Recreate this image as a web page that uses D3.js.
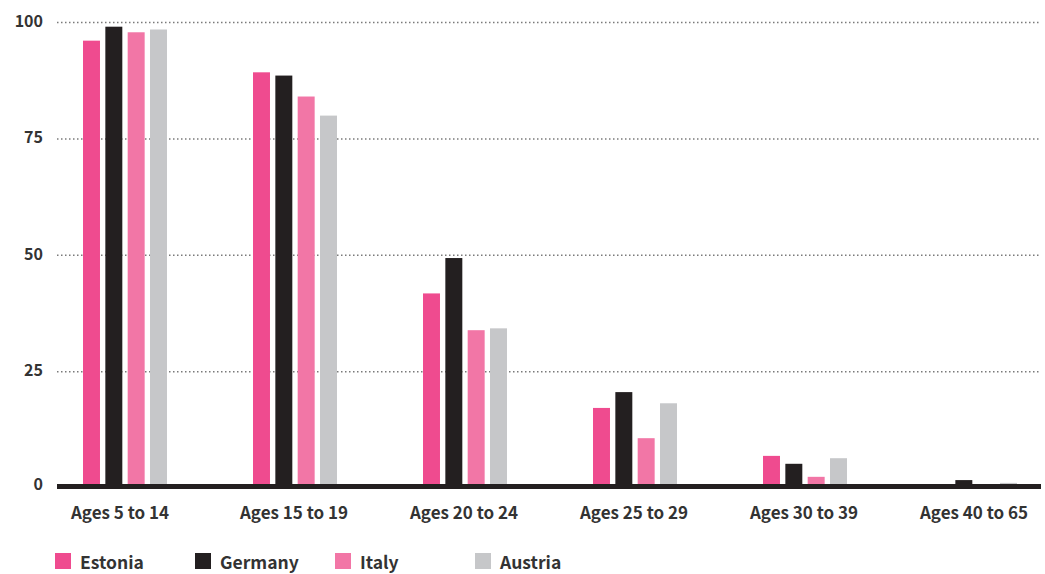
<!DOCTYPE html>
<html>
<head>
<meta charset="utf-8">
<script src="https://cdn.jsdelivr.net/npm/d3@7"></script>
<style>
  html, body { margin: 0; padding: 0; background: #fff; }
  svg { display: block; font-family: "Noto Sans CJK SC", "Source Sans Pro", "Noto Sans", sans-serif; }
</style>
</head>
<body>
<svg id="chart" width="1045" height="574"></svg>
<script>
const categories = ["Ages 5 to 14", "Ages 15 to 19", "Ages 20 to 24", "Ages 25 to 29", "Ages 30 to 39", "Ages 40 to 65"];
const series = ["Estonia", "Germany", "Italy", "Austria"];
const estonia = [96.1, 89.3, 41.8, 17.2, 6.9, 0];
const germany = [99.1, 88.6, 49.4, 20.6, 5.2, 1.7];
const italy   = [97.9, 84.1, 33.9, 10.7, 2.4, 0];
const austria = [98.5, 80.0, 34.3, 18.2, 6.4, 1.1];
const yTicks = [0, 25, 50, 75, 100];
const colors = ["#ef4b8f", "#231f20", "#f276a6", "#c6c7c9"];

const values = [estonia, germany, italy, austria];
const data = categories.map((c, i) => ({ cat: c, vals: series.map((s, j) => ({ s, v: values[j][i] })) }));

const svg = d3.select("#chart");
const x0 = d3.scaleBand().domain(categories).range([40, 1060]).padding(0);
const x1 = d3.scaleBand().domain(series).range([0, 84]).paddingInner(0.24).paddingOuter(0);
const y = d3.scaleLinear().domain([0, 100]).range([488, 22.5]);
const color = d3.scaleOrdinal().domain(series).range(colors);

const gridL = 57, gridR = 1041;

// gridlines
svg.append("g").selectAll("line").data(yTicks.filter(t => t > 0)).join("line")
  .attr("x1", gridL).attr("x2", gridR)
  .attr("y1", d => y(d)).attr("y2", d => y(d))
  .attr("stroke", "#7a7a7a").attr("stroke-width", 1.5)
  .attr("stroke-dasharray", "1.5,2.5");

// y tick labels
const yAxis = d3.axisLeft(y).tickValues(yTicks).tickSize(0).tickPadding(0);
const yg = svg.append("g").attr("transform", "translate(43,0)").call(yAxis);
yg.select(".domain").remove();
yg.selectAll("text")
  .attr("font-family", '"Noto Sans CJK SC", sans-serif')
  .attr("font-size", 16).attr("font-weight", 700).attr("fill", "#333")
  .attr("dy", d => d === 0 ? "0.12em" : "0.25em");

// bars
const groups = svg.append("g").selectAll("g").data(data).join("g")
  .attr("transform", d => `translate(${x0(d.cat) + x0.bandwidth() / 2 - 42},0)`);
groups.selectAll("rect").data(d => d.vals).join("rect")
  .attr("x", d => x1(d.s))
  .attr("width", x1.bandwidth())
  .attr("y", d => y(d.v))
  .attr("height", d => y(0) - y(d.v))
  .attr("fill", d => color(d.s));

// baseline
svg.append("line")
  .attr("x1", gridL).attr("x2", gridR)
  .attr("y1", y(0) - 1.5).attr("y2", y(0) - 1.5)
  .attr("stroke", "#231f20").attr("stroke-width", 5);

// x labels
const xAxis = d3.axisBottom(x0).tickSize(0).tickPadding(0);
const xg = svg.append("g").attr("transform", "translate(-5,519)").call(xAxis);
xg.select(".domain").remove();
xg.selectAll("text")
  .attr("dy", 0)
  .attr("font-family", '"Noto Sans CJK SC", sans-serif')
  .attr("font-size", 17).attr("font-weight", 700).attr("fill", "#333");
xg.selectAll(".tick").filter((d, i) => i > 0).attr("transform", d => `translate(${x0(d) + x0.bandwidth() / 2 + 4},0)`);

// legend
const leg = svg.append("g").selectAll("g").data(series).join("g")
  .attr("transform", (d, i) => `translate(${55 + i * 140},553)`);
leg.append("rect").attr("width", 16).attr("height", 16).attr("fill", d => color(d));
leg.append("text").attr("x", 25).attr("y", 16)
  .attr("font-size", 17.5).attr("font-weight", 700).attr("fill", "#333")
  .text(d => d);
</script>
</body>
</html>
